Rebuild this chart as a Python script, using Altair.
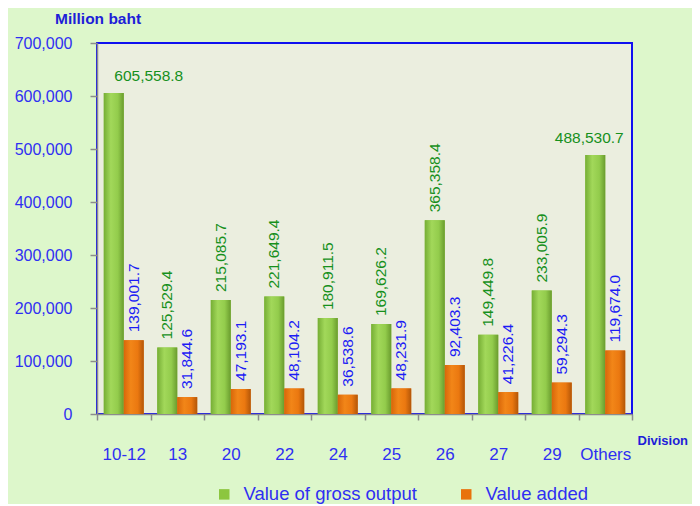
import json
import altair as alt
import pandas as pd

FONT = "Liberation Sans"

divisions = ["10-12", "13", "20", "22", "24", "25", "26", "27", "29", "Others"]
gross_output = [605558.8, 125529.4, 215085.7, 221649.4, 180911.5,
                169626.2, 365358.4, 149449.8, 233005.9, 488530.7]
value_added = [139001.7, 31844.6, 47193.1, 48104.2, 36538.6,
               48231.9, 92403.3, 41226.4, 59294.3, 119674.0]
series_names = ["Value of gross output", "Value added"]
y_ticks = [0, 100000, 200000, 300000, 400000, 500000, 600000, 700000]
horizontal_label_divisions = ["10-12", "Others"]

rows = []
for d, g, a in zip(divisions, gross_output, value_added):
    rows.append({"Division": d, "Series": series_names[0], "Value": g})
    rows.append({"Division": d, "Series": series_names[1], "Value": a})
df = pd.DataFrame(rows)

BLUE_TXT = "#2F2FF2"
GREEN_TXT = "#16901C"
GREY = "#8C8C8C"

x_enc = alt.X(
    "Division:N", sort=divisions,
    scale=alt.Scale(paddingInner=0, paddingOuter=0),
    axis=alt.Axis(
        title="Division", titleAlign="left", titleX=540, titleY=26,
        titleBaseline="middle", titleColor="#1E1ED8", titleFontSize=13,
        titleFontWeight="bold", titleFont=FONT,
        labelAngle=0, labelBaseline="middle", labelPadding=34,
        labelColor=BLUE_TXT, labelFontSize=17, labelFont=FONT,
        tickBand="extent", tickSize=6, tickColor=GREY, tickWidth=1.5,
        domainColor=GREY, domainWidth=1.5, grid=False,
    ),
)
xoff_enc = alt.XOffset(
    "Series:N", sort=series_names,
    scale=alt.Scale(domain=series_names, paddingInner=0, paddingOuter=0.34),
)
y_enc = alt.Y(
    "Value:Q",
    scale=alt.Scale(domain=[0, 700000], nice=False, zero=True),
    axis=alt.Axis(
        values=y_ticks, format=",d", title=None, grid=False,
        domainColor=GREY, domainWidth=1.5, tickColor=GREY, tickWidth=1.5,
        tickSize=7, labelColor=BLUE_TXT, labelFontSize=16,
        labelPadding=18, labelFont=FONT,
    ),
)

base = alt.Chart(df)

legend_bars = base.mark_bar().encode(
    x=x_enc, xOffset=xoff_enc, y=y_enc,
    color=alt.Color(
        "Series:N",
        scale=alt.Scale(domain=series_names, range=["#8CC63F", "#E8720C"]),
        legend=alt.Legend(
            orient="none", legendX=118, legendY=442, direction="horizontal",
            title=None, symbolType="square", symbolSize=110,
            labelFontSize=18.5, labelColor=BLUE_TXT, labelFont=FONT,
            labelLimit=400, columnPadding=40, labelOffset=10,
            symbolStrokeWidth=0,
        ),
    ),
)

green_grad = alt.LinearGradient(
    gradient="linear", x1=0, x2=1, y1=0, y2=0,
    stops=[
        alt.GradientStop(color="#76AE35", offset=0),
        alt.GradientStop(color="#A2D85A", offset=0.35),
        alt.GradientStop(color="#93CC4C", offset=0.7),
        alt.GradientStop(color="#6A9C2E", offset=1),
    ],
)
orange_grad = alt.LinearGradient(
    gradient="linear", x1=0, x2=1, y1=0, y2=0,
    stops=[
        alt.GradientStop(color="#D8660A", offset=0),
        alt.GradientStop(color="#F28618", offset=0.35),
        alt.GradientStop(color="#EB7810", offset=0.7),
        alt.GradientStop(color="#B35608", offset=1),
    ],
)

green_bars = base.transform_filter(
    alt.datum.Series == series_names[0]
).mark_bar(color=green_grad).encode(x=x_enc, xOffset=xoff_enc, y=y_enc)

orange_bars = base.transform_filter(
    alt.datum.Series == series_names[1]
).mark_bar(color=orange_grad).encode(x=x_enc, xOffset=xoff_enc, y=y_enc)

text_enc = alt.Text("Value:Q", format=",.1f")
hl = json.dumps(horizontal_label_divisions)

green_vert = base.transform_filter(
    f"datum.Series == '{series_names[0]}' && indexof({hl}, datum.Division) < 0"
).mark_text(
    angle=270, align="left", baseline="middle", dx=8,
    fontSize=15.5, color=GREEN_TXT, font=FONT,
).encode(x=x_enc, xOffset=xoff_enc, y=y_enc, text=text_enc)

blue_vert = base.transform_filter(
    alt.datum.Series == series_names[1]
).mark_text(
    angle=270, align="left", baseline="middle", dx=8,
    fontSize=15.5, color="#1C1CF5", font=FONT,
).encode(x=x_enc, xOffset=xoff_enc, y=y_enc, text=text_enc)

h_dx = {"10-12": 35, "Others": -6}
horiz_layers = []
for d in horizontal_label_divisions:
    horiz_layers.append(
        base.transform_filter(
            f"datum.Series == '{series_names[0]}' && datum.Division == '{d}'"
        ).mark_text(
            align="center", baseline="bottom", dy=-9, dx=h_dx[d],
            fontSize=15.5, color=GREEN_TXT, font=FONT,
        ).encode(x=x_enc, xOffset=xoff_enc, y=y_enc, text=text_enc)
    )

chart = alt.layer(
    legend_bars, green_bars, orange_bars, green_vert, blue_vert, *horiz_layers
).properties(
    width=535, height=371,
    autosize=alt.AutoSizeParams(type="none"),
    padding={"left": 89, "top": 35, "right": 60, "bottom": 90},
    background="#DDF7CB",
    title=alt.TitleParams(
        "Million baht", anchor="start", frame="group", dx=-42, dy=17,
        offset=13, fontSize=15.5, fontWeight="bold", color="#1E1ED8",
        font=FONT, baseline="alphabetic",
    ),
).configure_view(
    fill="#EBEEDF", stroke="#1010F0", strokeWidth=2,
)

chart.save("out.html", embed_options={"renderer": "svg", "actions": False})
